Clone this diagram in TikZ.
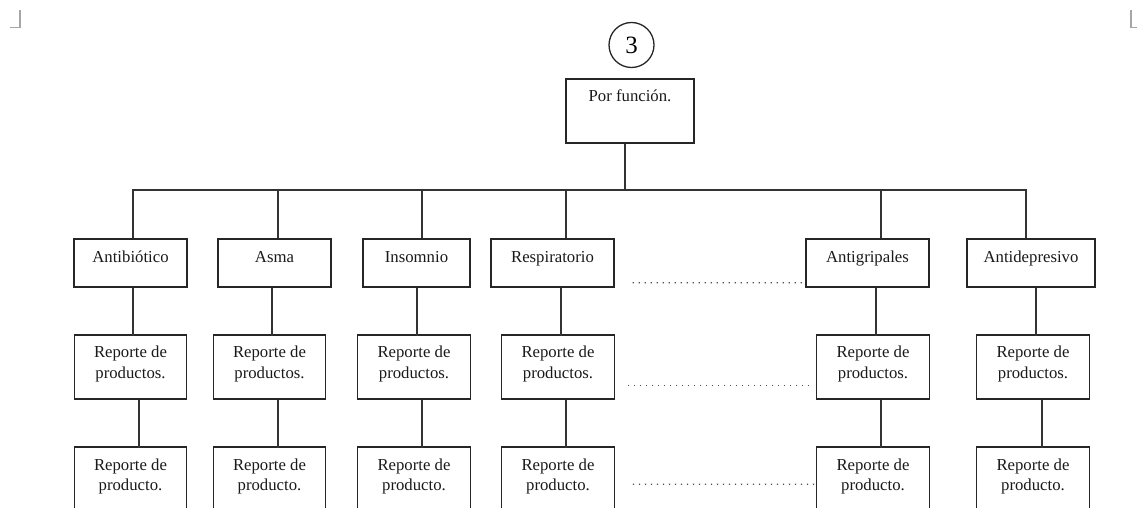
\documentclass[tikz,border=0pt]{standalone}
\usepackage{fontspec}
\setmainfont{Liberation Serif}
\begin{document}
\begin{tikzpicture}[x=1bp,y=1bp,
  line width=1.4bp,
  box/.style={draw=black!85, line width=1.4bp, rectangle, inner sep=0pt},
  lbl/.style={inner sep=0pt, anchor=base, font=\fontsize{16.8}{21}\selectfont, text=black!90},
  link/.style={draw=black!80, line width=1.5bp},
  dotline/.style={draw=black!70, line width=1.2bp, dash pattern=on 1.2bp off 4.8bp},
  corner/.style={draw=black!35, line width=1.3bp}
]
\useasboundingbox (0,0) rectangle (1137,-508);
\clip (0,0) rectangle (1137,-508);

% page corner marks
\draw[corner] (20,-10) -- (20,-27.5) -- (10,-27.5);
\draw[corner] (1131,-10) -- (1131,-27.5) -- (1140,-27.5);

% page number
\node[draw=black!85, line width=1.3bp, circle, minimum size=45bp, inner sep=0pt,
      font=\fontsize{25}{28}\selectfont] (num) at (631.5,-45) {3};

% root
\node[box, minimum width=128bp, minimum height=64bp] (root) at (630,-111) {};
\node[lbl] (roott) at ([yshift=-23.5bp]root.north) {Por función.};

% first level
\node[box, minimum width=113bp, minimum height=48bp] (a1) at (130.5,-263) {};
\node[box, minimum width=113bp, minimum height=48bp] (b1) at (274.5,-263) {};
\node[box, minimum width=107bp, minimum height=48bp] (c1) at (416.5,-263) {};
\node[box, minimum width=123bp, minimum height=48bp] (d1) at (552.5,-263) {};
\node[box, minimum width=123bp, minimum height=48bp] (e1) at (867.5,-263) {};
\node[box, minimum width=128bp, minimum height=48bp] (f1) at (1031,-263) {};
\node[lbl] (a1t) at ([yshift=-24bp]a1.north) {Antibiótico};
\node[lbl] (b1t) at ([yshift=-24bp]b1.north) {Asma};
\node[lbl] (c1t) at ([yshift=-24bp]c1.north) {Insomnio};
\node[lbl] (d1t) at ([yshift=-24bp]d1.north) {Respiratorio};
\node[lbl] (e1t) at ([yshift=-24bp]e1.north) {Antigripales};
\node[lbl] (f1t) at ([yshift=-24bp]f1.north) {Antidepresivo};

% second and third levels
\foreach \n/\cx in {a/130.5, b/269.5, c/414, d/558, e/873, f/1033}{
  \node[box, minimum width=112.5bp, minimum height=64bp] (\n2) at (\cx,-367) {};
  \node[box, minimum width=112.5bp, minimum height=64bp] (\n3) at (\cx,-479) {};
  \node[lbl] (\n2t) at ([yshift=-23.5bp]\n2.north)
    {\begin{tabular}[t]{@{}c@{}}Reporte de\\productos.\end{tabular}};
  \node[lbl] (\n3t) at ([yshift=-23.7bp]\n3.north)
    {\begin{tabular}[t]{@{}c@{}}Reporte de\\producto.\end{tabular}};
}

% trunk and bus
\coordinate (busL) at (133,-190);
\coordinate (busR) at (1026.5,-190);
\draw[link] ([xshift=-5bp]root.south) -- ++(0,-47);
\draw[link] (busL) -- (busR);

% drops and vertical links
\foreach \n/\up/\mid/\low in {a/2.5/2.5/8.5, b/3.5/-2.5/8.5, c/5.5/0.5/8,
                              d/13.5/8.5/8, e/13.5/8.5/8, f/-5/5/9}{
  \draw[link] ([xshift=\up bp]\n1.north) -- ++(0,49);
  \draw[link] ([xshift=\mid bp]\n1.south) -- ++(0,-48);
  \draw[link] ([xshift=\low bp]\n2.south) -- ++(0,-48);
}

% elision dots between columns
\draw[dotline] ([shift={(18,5)}]d1.south east) -- ([yshift=5bp]e1.south west);
\draw[dotline] ([shift={(13,14)}]d2.south east) -- ([shift={(-5,14)}]e2.south west);
\draw[dotline] ([shift={(18,-38)}]d3.north east) -- ([yshift=-38bp]e3.north west);
\end{tikzpicture}
\end{document}
